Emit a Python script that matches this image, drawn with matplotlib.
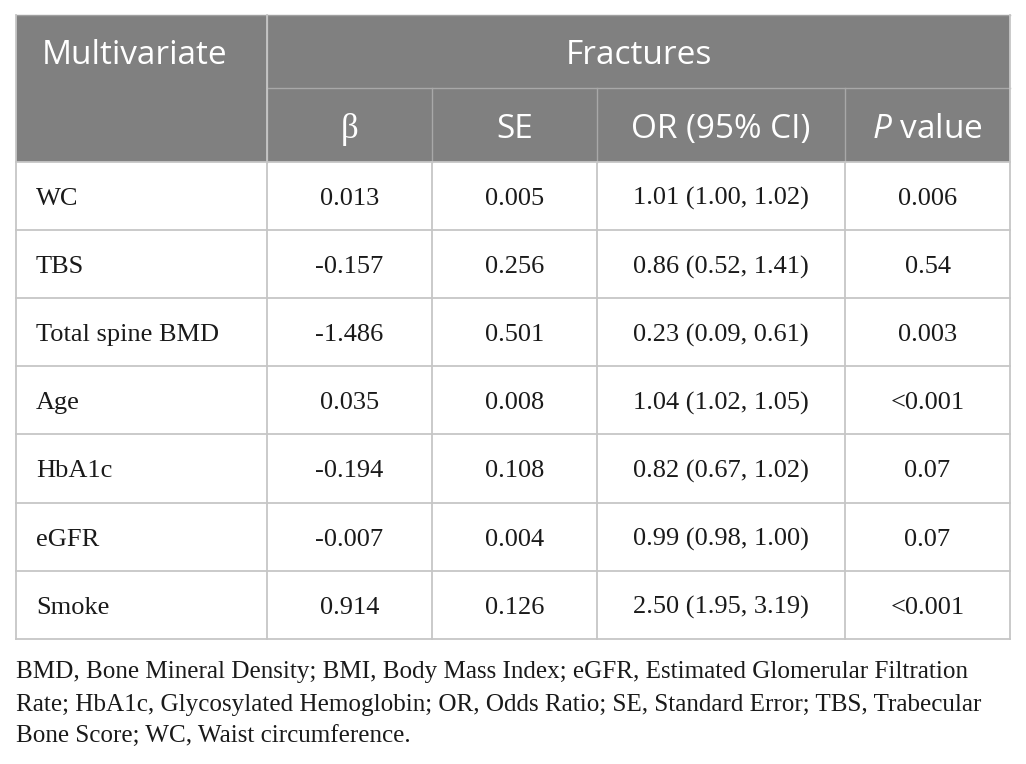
import matplotlib.pyplot as plt
from matplotlib.patches import Rectangle

# Table content
group_header = "Multivariate"
span_header = "Fractures"
col_headers = ["β", "SE", "OR (95% CI)", "P value"]
variables = ["WC", "TBS", "Total spine BMD", "Age", "HbA1c", "eGFR", "Smoke"]
beta = ["0.013", "-0.157", "-1.486", "0.035", "-0.194", "-0.007", "0.914"]
se = ["0.005", "0.256", "0.501", "0.008", "0.108", "0.004", "0.126"]
odds = ["1.01 (1.00, 1.02)", "0.86 (0.52, 1.41)", "0.23 (0.09, 0.61)",
        "1.04 (1.02, 1.05)", "0.82 (0.67, 1.02)", "0.99 (0.98, 1.00)",
        "2.50 (1.95, 3.19)"]
pvals = ["0.006", "0.54", "0.003", "<0.001", "0.07", "0.07", "<0.001"]
footnote = ["BMD, Bone Mineral Density; BMI, Body Mass Index; eGFR, Estimated Glomerular Filtration",
            "Rate; HbA1c, Glycosylated Hemoglobin; OR, Odds Ratio; SE, Standard Error; TBS, Trabecular",
            "Bone Score; WC, Waist circumference."]

plt.rcParams["mathtext.fontset"] = "custom"
plt.rcParams["mathtext.it"] = "Open Sans:italic"

# Layout (pixels)
col_x = [16, 267, 432, 597, 845, 1010]
top, h1, h2 = 15, 88, 162
row_h = 68.1
grid = "#c6c6c6"
head_bg = "#808080"

fig = plt.figure(figsize=(10.26, 7.64), dpi=100)
ax = fig.add_axes([0, 0, 1, 1])
ax.set_xlim(0, 1026)
ax.set_ylim(764, 0)
ax.axis("off")

n = len(variables)
bottom = h2 + n * row_h

ax.add_patch(Rectangle((col_x[0], top), col_x[-1] - col_x[0], h2 - top,
                       facecolor=head_bg, edgecolor="none"))

hfont = dict(family="Open Sans", color="white", fontsize=24)
ax.text(col_x[0] + 26, (top + h1) / 2 + 13, group_header, ha="left", va="baseline", **hfont)
ax.text((col_x[1] + col_x[-1]) / 2, (top + h1) / 2 + 13, span_header,
        ha="center", va="baseline", **hfont)
for i, lab in enumerate(col_headers):
    cx = (col_x[i + 1] + col_x[i + 2]) / 2
    cy = (h1 + h2) / 2 + 13
    if lab == "P value":
        ax.text(cx, cy, r"$\mathit{P}$ value", ha="center", va="baseline", **hfont)
    elif lab == "β":
        ax.text(cx, cy, lab, ha="center", va="baseline", family="Liberation Serif",
                color="white", fontsize=25)
    else:
        ax.text(cx, cy, lab, ha="center", va="baseline", **hfont)

bfont = dict(family="Liberation Serif", color="#1a1a1a", fontsize=19)
for r in range(n):
    cy = h2 + (r + 0.5) * row_h + 9
    ax.text(col_x[0] + 20, cy, variables[r], ha="left", va="baseline", **bfont)
    for c, vals in enumerate([beta, se, odds, pvals]):
        cx = (col_x[c + 1] + col_x[c + 2]) / 2
        ax.text(cx, cy, vals[r], ha="center", va="baseline", **bfont)

# grid lines
ax.plot([col_x[1], col_x[-1]], [h1, h1], color="#a8a8a8", lw=1)
ax.plot([col_x[0], col_x[-1]], [top, top], color="#a0a0a0", lw=1)
for x in col_x[2:-1]:
    ax.plot([x, x], [h1, h2], color="#a8a8a8", lw=1)
ax.plot([col_x[1], col_x[1]], [top, h2], color="#a8a8a8", lw=1)
for r in range(n + 1):
    y = h2 + r * row_h
    ax.plot([col_x[0], col_x[-1]], [y, y], color=grid, lw=1.3)
for x in col_x:
    ax.plot([x, x], [h2 if x in col_x[2:-1] else top, bottom], color=grid, lw=1.3)

for i, line in enumerate(footnote):
    ax.text(col_x[0], 678 + i * 32.5, line, ha="left", va="baseline",
            family="Liberation Serif", color="#1a1a1a", fontsize=18.1)

fig.savefig("out.png", dpi=100, facecolor="white")
